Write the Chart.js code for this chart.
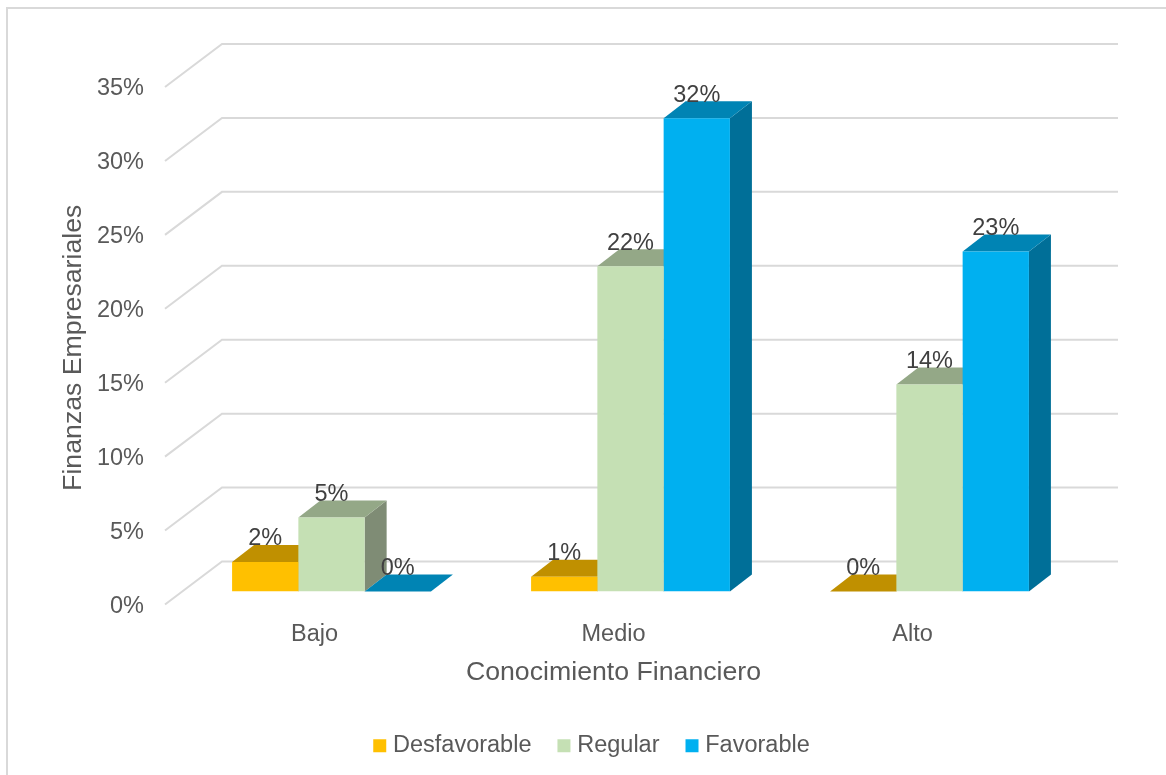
<!DOCTYPE html>
<html>
<head>
<meta charset="utf-8">
<title>Finanzas Empresariales</title>
<script src="https://cdn.jsdelivr.net/npm/chart.js@4/dist/chart.umd.min.js"></script>
<style>
    html, body { margin: 0; padding: 0; background: #fff; overflow: hidden; }
    #wrap { position: relative; width: 1166px; height: 775px; }
    #frame { position: absolute; left: 6px; top: 7px; width: 1160px; height: 768px;
             border: solid #d9d9d9; border-width: 2px 0 0 2px; box-sizing: border-box; }
    canvas { position: absolute; left: 0; top: 0; }
</style>
</head>
<body>
<div id="wrap">
    <div id="frame"></div>
    <canvas id="chart" width="1166" height="775"></canvas>
</div>
<script>
const categories = ['Bajo', 'Medio', 'Alto'];
const seriesNames = ['Desfavorable', 'Regular', 'Favorable'];
const desfavorable = [2, 1, 0];
const regular = [5, 22, 14];
const favorable = [0, 32, 23];
const yTicks = [0, 5, 10, 15, 20, 25, 30, 35];
const xTitle = 'Conocimiento Financiero';
const yTitle = 'Finanzas Empresariales';

const FONT = '"Liberation Sans", Arial, sans-serif';
const TEXT = '#595959';
const GRID = '#d9d9d9';
const FRONT = ['#ffc000', '#c5e0b4', '#00b0f0'];
const TOP = ['#c09000', '#94a887', '#0084b4'];
const SIDE = ['#c09000', '#7f8c75', '#006f98'];

// profundidad del efecto 3D (barra) y del piso (rejilla)
const BAR_DX = 22, BAR_DY = 17;
const WALL_DX = 40, WALL_DY = 30;
const FLOOR_DX = 17, FLOOR_DY = 13;

function poly(ctx, pts, color) {
    ctx.fillStyle = color;
    ctx.beginPath();
    pts.forEach((p, i) => i ? ctx.lineTo(p[0], p[1]) : ctx.moveTo(p[0], p[1]));
    ctx.closePath();
    ctx.fill();
}

const fake3d = {
    id: 'fake3d',
    afterLayout(chart) {
        // la leyenda no va centrada sobre el area del grafico
        chart.legend.left += 54.5;
        chart.legend.right += 54.5;
        chart.legend.top -= 7.5;
        chart.legend.bottom -= 7.5;
    },
    beforeDatasetsDraw(chart) {
        const { ctx, chartArea: area, scales: { y } } = chart;
        ctx.save();
        ctx.strokeStyle = GRID;
        ctx.lineWidth = 2;
        yTicks.forEach(v => {
            const py = y.getPixelForValue(v);
            ctx.beginPath();
            ctx.moveTo(area.left - FLOOR_DX, py + FLOOR_DY);
            ctx.lineTo(area.left + WALL_DX, py - WALL_DY);
            ctx.lineTo(area.right + WALL_DX - 1, py - WALL_DY);
            ctx.stroke();
        });
        // caras superior y lateral, en orden de serie
        chart.data.datasets.forEach((ds, i) => {
            chart.getDatasetMeta(i).data.forEach(bar => {
                const l = bar.x - bar.width / 2, r = bar.x + bar.width / 2;
                poly(ctx, [[r, bar.y], [r + BAR_DX, bar.y - BAR_DY], [r + BAR_DX, bar.base - BAR_DY], [r, bar.base]], SIDE[i]);
                poly(ctx, [[l, bar.y], [r, bar.y], [r + BAR_DX, bar.y - BAR_DY], [l + BAR_DX, bar.y - BAR_DY]], TOP[i]);
            });
        });
        ctx.restore();
    },
    afterDatasetsDraw(chart) {
        const { ctx, chartArea: area } = chart;
        ctx.save();
        ctx.font = '23.5px ' + FONT;
        ctx.fillStyle = '#404040';
        ctx.textAlign = 'center';
        ctx.textBaseline = 'middle';
        chart.data.datasets.forEach((ds, i) => {
            chart.getDatasetMeta(i).data.forEach((bar, j) => {
                ctx.fillText(ds.data[j] + '%', bar.x, bar.y - 23);
            });
        });
        // titulos de eje centrados sobre el plano frontal, no sobre el area
        ctx.font = '26.7px ' + FONT;
        ctx.fillStyle = TEXT;
        ctx.fillText(xTitle, (area.left + area.right) / 2 - FLOOR_DX, 673);
        ctx.translate(74, (area.top + area.bottom) / 2 + FLOOR_DY + 2);
        ctx.rotate(-Math.PI / 2);
        ctx.fillText(yTitle, 0, 0);
        ctx.restore();
    }
};

new Chart(document.getElementById('chart'), {
    type: 'bar',
    plugins: [fake3d],
    data: {
        labels: categories,
        datasets: [desfavorable, regular, favorable].map((vals, i) => ({
            label: seriesNames[i],
            data: vals,
            backgroundColor: FRONT[i],
            barPercentage: 1,
            categoryPercentage: 0.665
        }))
    },
    options: {
        responsive: false,
        animation: false,
        layout: { padding: { left: 0, right: 87, top: 74, bottom: 0 } },
        plugins: {
            tooltip: { enabled: false },
            legend: {
                position: 'bottom',
                labels: {
                    color: TEXT,
                    font: { family: FONT, size: 23.5 },
                    usePointStyle: true,
                    pointStyle: 'rect',
                    boxWidth: 3,
                    boxHeight: 13,
                    padding: 31
                }
            }
        },
        scales: {
            x: {
                afterFit(s) { s.height = 119; },
                grid: { display: false },
                border: { display: false },
                ticks: { color: TEXT, font: { family: FONT, size: 23.5 }, labelOffset: -17, padding: 21, maxRotation: 0 }
            },
            y: {
                min: 0,
                max: 35,
                afterFit(s) { s.width = 182; },
                grid: { display: false },
                border: { display: false },
                ticks: {
                    stepSize: 5,
                    color: TEXT,
                    font: { family: FONT, size: 23.5 },
                    labelOffset: 15,
                    padding: 30,
                    callback: v => v + '%'
                }
            }
        }
    }
});
</script>
</body>
</html>
